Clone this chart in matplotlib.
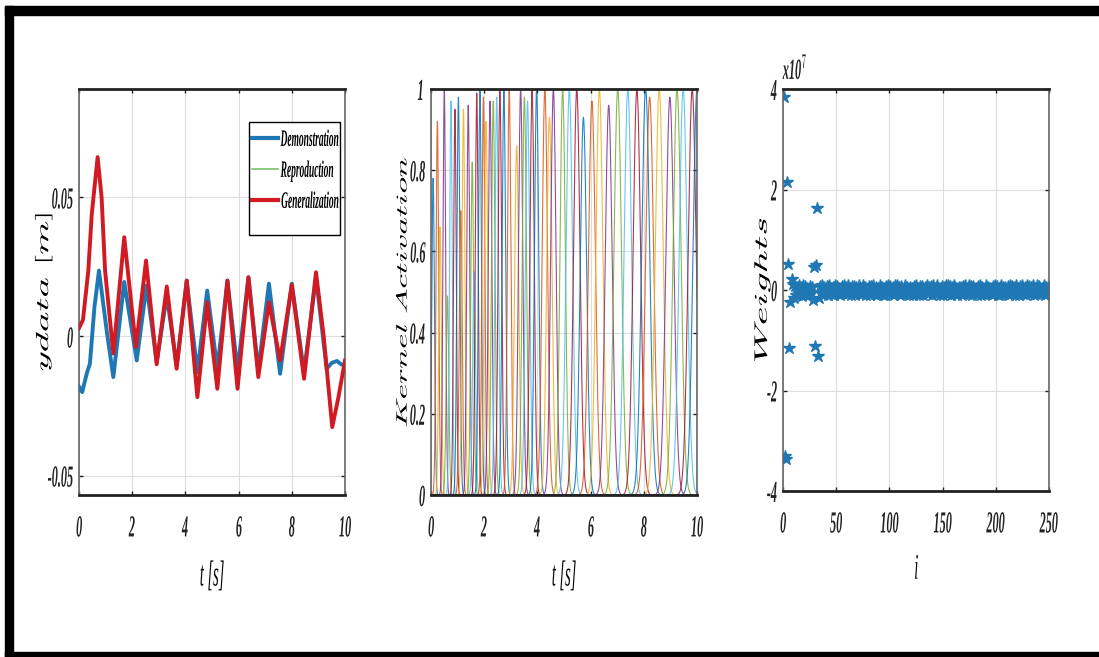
import numpy as np
import matplotlib
matplotlib.use('Agg')
import matplotlib.pyplot as plt
import matplotlib.patheffects as pe
from matplotlib.transforms import Affine2D
from matplotlib.patches import Rectangle

# ---- panel 1: trajectories ----
t_demo = [0.00, 0.12, 0.30, 0.41, 0.58, 0.75, 1.04, 1.29, 1.70, 2.17, 2.54, 2.92,
          3.30, 3.67, 4.05, 4.45, 4.82, 5.20, 5.58, 5.96, 6.37, 6.74, 7.14, 7.56,
          8.00, 8.46, 8.91, 9.31, 9.50, 9.70, 9.85, 10.00]
y_demo = [-0.0180, -0.0200, -0.0130, -0.0098, 0.0105, 0.0237, 0.0022, -0.0146, 0.0196,
          -0.0086, 0.0183, -0.0092, 0.0147, -0.0105, 0.0201, -0.0128, 0.0165, -0.0116,
          0.0201, -0.0122, 0.0213, -0.0122, 0.0190, -0.0134, 0.0190, -0.0128, 0.0213,
          -0.0116, -0.0095, -0.0088, -0.0100, -0.0105]
y_repro = list(y_demo)

t_gen = [0.00, 0.15, 0.35, 0.48, 0.70, 0.85, 0.98, 1.29, 1.70, 2.14, 2.52, 2.92, 3.30,
         3.67, 4.05, 4.45, 4.82, 5.20, 5.58, 5.96, 6.37, 6.74, 7.14, 7.56, 8.00, 8.46,
         8.91, 9.20, 9.52, 9.75, 10.00]
y_gen = [0.0030, 0.0060, 0.0237, 0.0440, 0.0645, 0.0500, 0.0237, -0.0061, 0.0357,
         -0.0038, 0.0273, -0.0100, 0.0180, -0.0116, 0.0201, -0.0218, 0.0123, -0.0188,
         0.0201, -0.0188, 0.0213, -0.0146, 0.0123, -0.0086, 0.0186, -0.0152, 0.0231,
         0.0000, -0.0326, -0.0220, -0.0086]

# ---- panel 2: kernel centres [s], peak heights, widths [s] ----
k_center = [0.08, 0.24, 0.34, 0.50, 0.62, 0.75, 0.90, 1.03, 1.12, 1.22, 1.40, 1.55,
            1.62, 1.72, 1.84, 1.97, 2.07, 2.22, 2.34, 2.47, 2.59, 2.74, 2.94, 3.22,
            3.37, 3.51, 3.63, 3.80, 3.97, 4.28, 4.45, 4.60, 4.95, 5.20, 5.48, 5.73,
            6.05, 6.33, 6.68, 7.02, 7.40, 7.74, 8.07, 8.22, 8.58, 8.98, 9.25, 9.48,
            9.82, 10.00]
k_height = [0.78, 0.92, 0.66, 1.00, 0.49, 0.97, 0.95, 0.98, 0.70, 0.95, 0.96, 0.82,
            0.55, 0.99, 1.00, 0.98, 0.92, 0.97, 0.97, 0.98, 1.00, 1.00, 1.00, 0.86,
            1.00, 0.98, 0.97, 1.00, 1.00, 1.00, 0.93, 1.00, 1.00, 1.00, 1.00, 0.93,
            0.97, 1.00, 0.96, 1.00, 1.00, 1.00, 1.00, 0.98, 1.00, 0.98, 1.00, 1.00,
            1.00, 1.00]
k_width = [0.05, 0.05, 0.05, 0.05, 0.05, 0.05, 0.05, 0.055, 0.055, 0.055, 0.055, 0.055,
           0.055, 0.055, 0.055, 0.055, 0.065, 0.065, 0.065, 0.065, 0.065, 0.065, 0.065, 0.08,
           0.08, 0.08, 0.08, 0.08, 0.08, 0.10, 0.10, 0.10, 0.10, 0.12, 0.12, 0.12,
           0.13, 0.13, 0.13, 0.14, 0.14, 0.14, 0.15, 0.15, 0.15, 0.15, 0.15, 0.15,
           0.15, 0.15]

# ---- panel 3: weights, units of 1e7, i = 1..250 ----
w_head = [3.85, -3.30, -3.36, 2.15, 0.52, -1.16, -0.24, 0.22,
          0.12, -0.15, 0.08, -0.10, 0.06, -0.09, 0.10, -0.07, 0.05, -0.11,
          0.09, -0.06, 0.07, -0.08, 0.04, -0.10, 0.08, -0.05, 0.06, -0.20,
          0.46, -1.12, 0.50, 1.64, -1.32, -0.15]
w_tail = [
    0.08, -0.06, 0.09, -0.10, 0.05, -0.04, 0.07, -0.09, 0.10, -0.05, 0.03, -0.08,
    0.06, -0.10, 0.09, -0.03, 0.07, -0.07, 0.04, -0.09, 0.08, -0.06, 0.10, -0.04,
    0.05, -0.08, 0.09, -0.06, 0.03, -0.10, 0.08, -0.05, 0.07, -0.09, 0.06, -0.02,
    0.10, -0.07, 0.04, -0.08, 0.09, -0.05, 0.06, -0.10, 0.02, -0.06, 0.08, -0.09,
    0.07, -0.04, 0.10, -0.08, 0.05, -0.09, 0.03, -0.06, 0.09, -0.07, 0.06, -0.10,
    0.04, -0.09, 0.08, -0.05, 0.10, -0.03, 0.07, -0.08, 0.05, -0.10, 0.09, -0.06,
    0.09, -0.05, 0.06, -0.10, 0.08, -0.07, 0.02, -0.04, 0.10, -0.08, 0.05, -0.09,
    0.06, -0.08, 0.03, -0.09, 0.07, -0.06, 0.10, -0.05, 0.04, -0.10, 0.08, -0.07,
    0.08, -0.10, 0.05, -0.04, 0.09, -0.08, 0.06, -0.03, 0.07, -0.09, 0.10, -0.05,
    0.03, -0.07, 0.10, -0.06, 0.04, -0.09, 0.08, -0.10, 0.06, -0.05, 0.09, -0.08,
    0.10, -0.05, 0.07, -0.09, 0.06, -0.04, 0.09, -0.07, 0.03, -0.10, 0.05, -0.06,
    0.05, -0.09, 0.08, -0.07, 0.10, -0.06, 0.04, -0.08, 0.09, -0.03, 0.07, -0.10,
    0.07, -0.06, 0.04, -0.10, 0.08, -0.05, 0.10, -0.09, 0.05, -0.07, 0.02, -0.08,
    0.09, -0.08, 0.06, -0.05, 0.03, -0.10, 0.07, -0.04, 0.10, -0.06, 0.08, -0.09,
    0.04, -0.10, 0.09, -0.07, 0.05, -0.08, 0.06, -0.05, 0.08, -0.09, 0.10, -0.03,
    0.08, -0.04, 0.05, -0.09, 0.10, -0.07, 0.03, -0.10, 0.07, -0.06, 0.09, -0.05,
    0.06, -0.09, 0.10, -0.04, 0.07, -0.08, 0.05, -0.06, 0.09, -0.10, 0.04, -0.07,
    0.10, -0.06, 0.08, -0.08, 0.04, -0.05, 0.09, -0.09, 0.06, -0.07, 0.05, -0.04]
weights_e7 = w_head + w_tail

x_ticks_t = [0, 2, 4, 6, 8, 10]
y_ticks_1 = [-0.05, 0, 0.05]
y_labels_1 = ['-0.05', '0', '0.05']
y_ticks_2 = [0, 0.2, 0.4, 0.6, 0.8, 1]
y_labels_2 = ['0', '0.2', '0.4', '0.6', '0.8', '1']
x_ticks_3 = [0, 50, 100, 150, 200, 250]
y_ticks_3 = [-4, -2, 0, 2, 4]
y_labels_3 = ['-4', '-2', '0', '2', '4']

matlab = ['#0072BD', '#D95319', '#EDB120', '#7E2F8E', '#77AC30', '#4DBEEE', '#A2142F']

plt.rcParams['font.family'] = ['Liberation Serif', 'DejaVu Serif']
plt.rcParams['font.style'] = 'italic'
plt.rcParams['font.weight'] = 'bold'
plt.rcParams['mathtext.fontset'] = 'cm'


class Squash(pe.AbstractPathEffect):
    # the source figure was squeezed sideways, so squeeze the glyphs too
    def __init__(self, s=0.4, along='x', anchor='center'):
        super().__init__()
        self.s, self.along, self.anchor = s, along, anchor

    def draw_path(self, renderer, gc, tpath, affine, rgbFace=None):
        ext = tpath.get_extents()
        if self.along == 'x':
            c = {'left': ext.x0, 'right': ext.x1}.get(self.anchor, (ext.x0 + ext.x1) / 2)
            sq = Affine2D().translate(-c, 0).scale(self.s, 1).translate(c, 0)
        else:
            c = (ext.y0 + ext.y1) / 2
            sq = Affine2D().translate(0, -c).scale(1, self.s).translate(0, c)
        renderer.draw_path(gc, tpath, sq + affine, rgbFace)


W, H = 1099, 657
fig = plt.figure(figsize=(W / 100, H / 100), dpi=100)


def px_axes(x0, x1, y0, y1):
    return fig.add_axes([x0 / W, 1 - y1 / H, (x1 - x0) / W, (y1 - y0) / H])


def style(ax, xt, xl, yt, yl, xlabel, ylabel, ylab_x, xlab_y, ylab_size):
    ax.set_xticks(xt)
    ax.set_xticklabels(xl)
    ax.set_yticks(yt)
    ax.set_yticklabels(yl)
    ax.grid(True, color='#dddddd', lw=0.8)
    ax.set_axisbelow(True)
    ax.tick_params(direction='in', length=3, width=1, top=True, right=True,
                   labelsize=22, colors='#222222')
    ax.tick_params(axis='x', pad=14)
    ax.tick_params(axis='y', pad=4)
    for side in ['top', 'bottom']:
        ax.spines[side].set_linewidth(2.0)
        ax.spines[side].set_color('#222222')
    for side in ['left', 'right']:
        ax.spines[side].set_linewidth(1.2)
        ax.spines[side].set_color('#666666')
    for lab in ax.get_xticklabels():
        lab.set_path_effects([Squash(0.4)])
    for lab in ax.get_yticklabels():
        lab.set_path_effects([Squash(0.4, anchor='right')])
    ax.set_xlabel(xlabel, fontsize=26, va='center')
    ax.xaxis.set_label_coords(0.5, xlab_y)
    ax.xaxis.label.set_path_effects([Squash(0.4)])
    ax.set_ylabel(ylabel, fontsize=ylab_size, va='center')
    ax.yaxis.set_label_coords(ylab_x, 0.5)
    ax.yaxis.label.set_path_effects([Squash(0.45, along='y')])


# panel 1
ax1 = px_axes(79, 345, 89, 495)
ax1.plot(t_demo, y_repro, color='#77c46a', lw=1.0, zorder=2)
ax1.plot(t_demo, y_demo, color='#1f77b4', lw=2.8, zorder=3)
ax1.plot(t_gen, y_gen, color='#d11a22', lw=2.8, zorder=4)
ax1.set_xlim(0, 10)
ax1.set_ylim(-0.057, 0.089)
style(ax1, x_ticks_t, [str(v) for v in x_ticks_t], y_ticks_1, y_labels_1,
      't [s]', r'$ydata\ [m]$', -0.132, -0.202, 28)
h_demo, = ax1.plot([], [], color='#1f77b4', lw=3)
h_rep, = ax1.plot([], [], color='#77c46a', lw=1.2)
h_gen, = ax1.plot([], [], color='#d11a22', lw=3)
leg = ax1.legend([h_demo, h_rep, h_gen], ['Demonstration', 'Reproduction', 'Generalization'],
                 loc='upper left', bbox_to_anchor=(0.625, 0.918), frameon=False,
                 fontsize=17, handlelength=1.1, handletextpad=0.1,
                 labelspacing=0.4, borderaxespad=0, borderpad=0.3)
for txt in leg.get_texts():
    txt.set_path_effects([Squash(0.4, anchor='left')])
ax1.add_patch(Rectangle((0.639, 0.640), 0.342, 0.279, transform=ax1.transAxes,
                        facecolor='white', edgecolor='black', lw=1.0, zorder=4.5))

# panel 2
ax2 = px_axes(431, 697, 89, 495)
tgrid = np.linspace(0, 10, 1001)
for k, (c, h, s) in enumerate(zip(k_center, k_height, k_width)):
    psi = h * np.exp(-(tgrid - c) ** 2 / (2 * s ** 2))
    ax2.plot(tgrid, psi, color=matlab[k % len(matlab)], lw=0.8, alpha=0.85)
ax2.set_xlim(0, 10)
ax2.set_ylim(0, 1)
style(ax2, x_ticks_t, [str(v) for v in x_ticks_t], y_ticks_2, y_labels_2,
      't [s]', r'$Kernel\ Activation$', -0.098, -0.202, 24)

# panel 3
ax3 = px_axes(783, 1049, 89, 491)
idx = np.arange(1, len(weights_e7) + 1)
ax3.plot(idx, weights_e7, ls='none', marker='*', ms=9, mew=1.0, color='#1f77b4')
ax3.set_xlim(0, 250)
ax3.set_ylim(-4, 4)
style(ax3, x_ticks_3, [str(v) for v in x_ticks_3], y_ticks_3, y_labels_3,
      'i', r'$Weights$', -0.079, -0.197, 29)
mult = ax3.text(0.0, 1.01, 'x10$^{7}$', transform=ax3.transAxes, fontsize=21,
                ha='left', va='bottom', color='#222222')
mult.set_path_effects([Squash(0.42, anchor='left')])

# black frame round the picture
for x, y, w, h in [(5, 6, W - 5, 9), (5, 6, 8, H - 6), (5, H - 5, W - 5, 5)]:
    fig.add_artist(Rectangle((x / W, 1 - (y + h) / H), w / W, h / H,
                             transform=fig.transFigure, color='black'))

fig.savefig('out.png', dpi=100, facecolor='white')
